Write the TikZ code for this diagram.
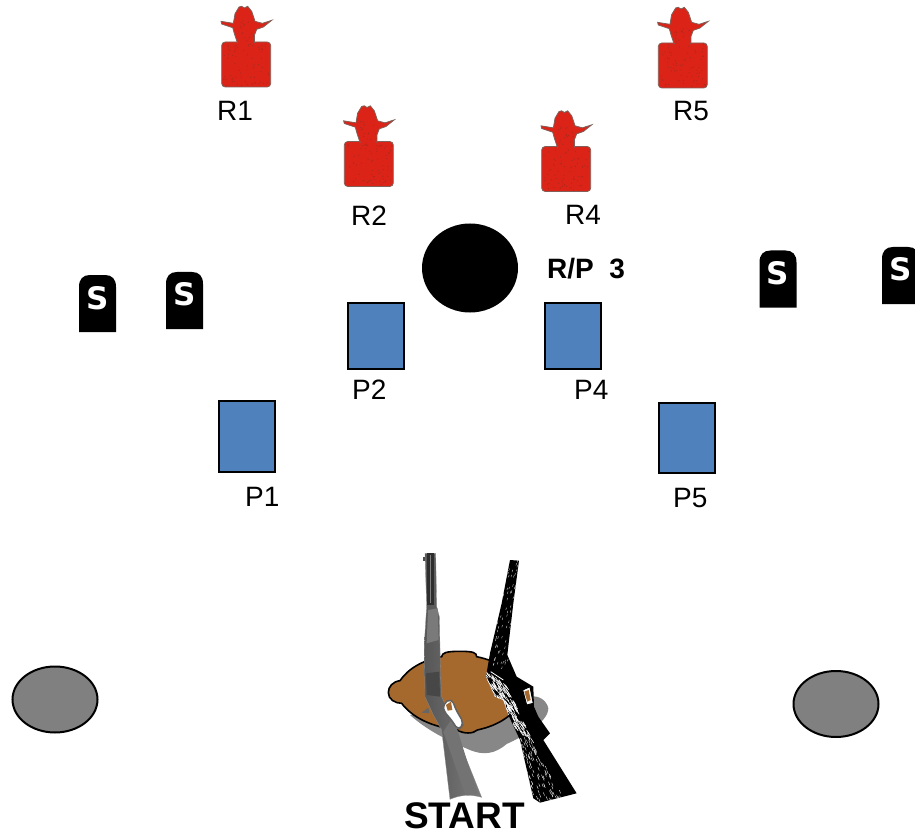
\documentclass[tikz,border=0pt]{standalone}
\usepackage{fontspec}
\setmainfont{Liberation Sans}
\newfontfamily\stonefont{DejaVu Sans}
\usetikzlibrary{shapes.geometric}
\definecolor{tred}{HTML}{DC2318}
\definecolor{tdark}{HTML}{B4281C}
\definecolor{tedge}{HTML}{806058}
\definecolor{pblue}{HTML}{4F81BD}
\definecolor{potbrown}{HTML}{A5692E}
\tikzset{
  lbl/.style={inner sep=0pt,anchor=base west,font=\fontsize{28}{28}\selectfont,text=black},
  blbl/.style={lbl,font=\fontsize{28}{28}\selectfont\bfseries},
  posbox/.style={draw=black,line width=2pt,fill=pblue,inner sep=0pt,anchor=north west,rectangle},
  rock/.style={draw=black,line width=2pt,fill=black!50,ellipse,inner sep=0pt},
  stonetxt/.style={inner sep=0pt,text=white,font=\stonefont\fontsize{31}{31}\selectfont\bfseries},
  pics/target/.style={code={
    \begin{scope}[x=.3333pt,y=-.3333pt]
    \fill[tred,draw=tedge,line width=.8pt,rounded corners=3.5pt] (0,0) rectangle (147,135);
    \fill[tred,draw=tedge,line width=.8pt] (47,2) -- (38,-25) -- (33,-43) -- (0,-54) -- (-2,-62) -- (35,-56)
      -- (40,-85) -- (52,-105) -- (60,-107) -- (68,-102) -- (78,-107) -- (90,-92) -- (100,-62)
      -- (122,-56) -- (150,-65) -- (125,-45) -- (105,-38) -- (98,-20) -- (98,2) -- cycle;
    \fill[tred] (49,-3) rectangle (96,6);
    \foreach \i in {1,...,70}{
      \pgfmathsetmacro{\ax}{4+139*rnd}
      \pgfmathsetmacro{\ay}{4+127*rnd}
      \fill[tdark] (\ax,\ay) circle[radius=.7pt];
    }
    \foreach \i in {1,...,16}{
      \pgfmathsetmacro{\ax}{48+48*rnd}
      \pgfmathsetmacro{\ay}{-2-65*rnd}
      \fill[tdark] (\ax,\ay) circle[radius=.7pt];
    }
    \end{scope}
  }},
  pics/stone/.style={code={
    \fill[black] (0,57) -- (0,12) .. controls (0,4) and (4,0) .. (11,0) -- (26,0)
      .. controls (33,0) and (37,4) .. (37,12) -- (37,57) -- cycle;
  }}
}
\begin{document}
\begin{tikzpicture}[x=1pt,y=-1pt]
\useasboundingbox (0,0) rectangle (915,834);
\clip (0,0) rectangle (915,834);
\pgfmathsetseed{17}
% targets
\pic at (221.7,42) {target};
\pic at (344.3,141.5) {target};
\pic at (541.7,146.5) {target};
\pic at (658.3,43) {target};
\node[lbl] (r1) at (217,121) {R1};
\node[lbl] (r2) at (351,226) {R2};
\node[lbl] (r4) at (565,225) {R4};
\node[lbl] (r5) at (673,121) {R5};
% centre
\node[ellipse,fill=black,minimum width=96pt,minimum height=89pt,inner sep=0pt] (drum) at (470,268) {};
\node[blbl] (rp3) at (547,278) {R/P\hspace{.55em}3};
% positions
\node[posbox,minimum width=56pt,minimum height=66pt] (p2box) at (346.5,301.5) {};
\node[posbox,minimum width=56pt,minimum height=66pt] (p4box) at (544,301.5) {};
\node[posbox,minimum width=56pt,minimum height=71pt] (p1box) at (218,400) {};
\node[posbox,minimum width=56pt,minimum height=70pt] (p5box) at (657.5,401.5) {};
\node[lbl] (p1) at (245,506) {P1};
\node[lbl] (p2) at (352,399) {P2};
\node[lbl] (p4) at (574,399) {P4};
\node[lbl] (p5) at (673,507) {P5};
% stones
\pic at (79,275) {stone};
\pic at (166,272) {stone};
\pic at (759.5,250.5) {stone};
\pic at (882,247) {stone};
\node[stonetxt] (s1) at (97.5,298) {S};
\node[stonetxt] (s2) at (185,294) {S};
\node[stonetxt] (s3) at (777.5,273) {S};
\node[stonetxt] (s4) at (901,269) {S};
% side ellipses
\node[rock,minimum width=85pt,minimum height=66pt] (rockl) at (55,699.5) {};
\node[rock,minimum width=85pt,minimum height=66pt] (rockr) at (836,704) {};
% start table with guns
\begin{scope}[shift={(370,540)},x=.3333pt,y=-.3333pt]
  % shadow
  \fill[black!47] (120,525) .. controls (170,570) and (230,600) .. (295,628)
    .. controls (340,648) and (375,642) .. (410,612)
    .. controls (460,590) and (535,545) .. (535,505)
    .. controls (530,480) and (505,465) .. (480,470) -- cycle;
  % pot
  \fill[potbrown,draw=black,line width=1.6pt]
    (90,422) .. controls (68,425) and (55,440) .. (55,458)
    .. controls (55,478) and (75,490) .. (95,490)
    .. controls (125,530) and (180,560) .. (262,570)
    .. controls (280,582) and (310,582) .. (322,570)
    .. controls (390,555) and (430,525) .. (455,482)
    .. controls (475,480) and (485,465) .. (482,450)
    .. controls (478,438) and (465,432) .. (450,432)
    .. controls (430,395) and (390,365) .. (320,350)
    .. controls (320,338) and (310,334) .. (270,334)
    .. controls (230,334) and (216,338) .. (215,350)
    .. controls (160,360) and (115,385) .. (90,422) -- cycle;
  % lever rifle
  \shade[left color=black!66,right color=black!52,draw=black!45,line width=.3pt]
    (165,40) -- (197,40) -- (200,200) -- (208,230) -- (212,420) -- (215,470) -- (240,525)
    -- (282,640) -- (335,772) .. controls (300,762) and (270,765) .. (240,778)
    -- (215,570) -- (190,525) -- (165,470) -- (163,310) -- (170,200) -- cycle;
  \fill[black!82] (170,40) rectangle (192,195);
  \draw[black!50,line width=.9pt] (181,45) -- (181,190);
  \fill[black!52] (174,210) -- (203,205) -- (206,300) -- (170,310) -- cycle;
  \fill[black!72] (168,400) -- (208,395) -- (210,470) -- (170,465) -- cycle;
  \fill[black!55] (220,575) -- (250,530) -- (322,762) -- (285,762) -- cycle;
  \fill[black!70] (160,50) rectangle (166,64);
  \fill[black!60] (155,518) -- (175,503) -- (178,520) -- cycle;
  \draw[black!62,line width=1.5pt,fill=white,rounded corners=5pt]
    (218,492) -- (245,475) -- (258,510) -- (282,550) -- (265,572) -- (245,540) -- (222,515) -- cycle;
  \fill[potbrown] (228,495) -- (243,485) -- (247,510) -- (233,512) -- cycle;
  % shotgun
  \begin{scope}
    \clip (420,60) -- (447,62) -- (430,190) -- (412,345) -- (440,410) -- (490,440) -- (492,500) -- (505,530) -- (540,580)
      -- (520,600) -- (620,760) -- (510,788) -- (490,775) -- (450,600) -- (415,525) -- (400,480) -- (375,470) -- (348,410) -- (360,340) -- (395,190) -- cycle;
    \fill[black] (340,50) rectangle (630,790);
    \pgfmathsetseed{41}
    \foreach \i in {1,...,220}{
      \pgfmathsetmacro{\t}{rnd}
      \pgfmathsetmacro{\u}{rnd}
      \pgfmathsetmacro{\ax}{360+\t*80+(\u-.5)*90}
      \pgfmathsetmacro{\ay}{400+\t*170+(\u-.5)*60}
      \draw[white,line width=.55pt] (\ax,\ay) -- ++(9,14);
    }
    \foreach \i in {1,...,90}{
      \pgfmathsetmacro{\t}{rnd}
      \pgfmathsetmacro{\u}{rnd}
      \pgfmathsetmacro{\ax}{400-\t*30+\u*60}
      \pgfmathsetmacro{\ay}{60+\t*320}
      \draw[white,line width=.3pt] (\ax,\ay) -- ++(-2,7);
    }
    \foreach \i in {1,...,150}{
      \pgfmathsetmacro{\t}{rnd}
      \pgfmathsetmacro{\u}{rnd}
      \pgfmathsetmacro{\ax}{450+\t*70+(\u-.5)*(50+\t*90)}
      \pgfmathsetmacro{\ay}{590+\t*190}
      \draw[white,line width=.35pt] (\ax,\ay) -- ++(4,10);
    }
    \draw[white,line width=1pt] (348,410) -- (375,470) -- (400,480) -- (415,525);
    \draw[white,line width=.8pt] (362,395) -- (400,420);
  \end{scope}
  \draw[black,line width=1pt,fill=white] (458,450) -- (480,440) -- (490,490) -- (470,495) -- cycle;
  \fill[potbrown] (463,455) -- (476,450) -- (482,480) -- (472,485) -- cycle;
\end{scope}
\node[lbl,font=\fontsize{37}{37}\selectfont\bfseries] (start) at (404,828) {START};
\end{tikzpicture}
\end{document}
